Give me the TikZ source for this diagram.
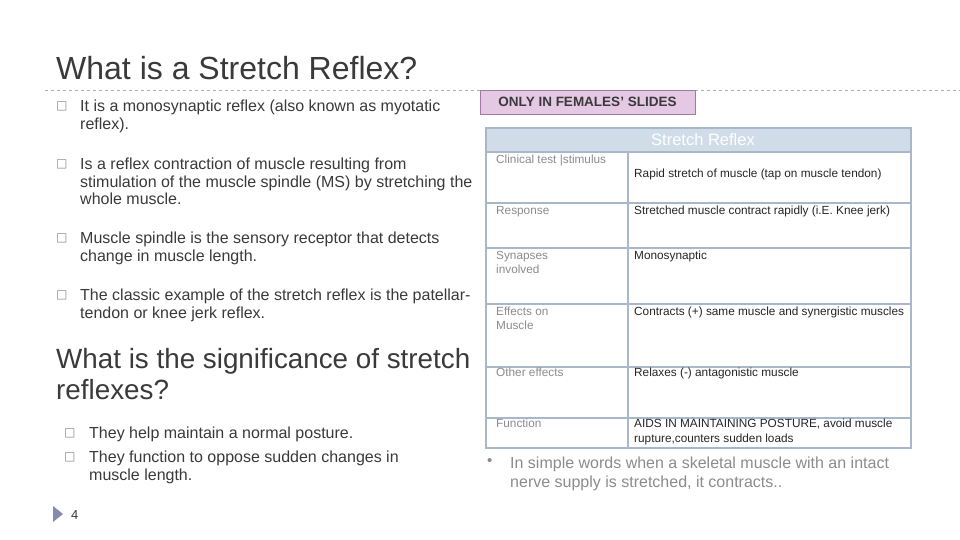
\documentclass[tikz,border=0pt]{standalone}
\usepackage{fontspec}
\setmainfont{Liberation Sans}
\newfontfamily\djsans{DejaVu Sans}
\definecolor{tx}{HTML}{3A3A3A}
\definecolor{lb}{HTML}{8C8C8C}
\definecolor{tb}{HTML}{A8B8C8}
\definecolor{hd}{HTML}{D0DCE8}
\definecolor{pk}{HTML}{E4C8E4}
\definecolor{pkb}{HTML}{A07AA0}
\begin{document}
\begin{tikzpicture}[x=1pt,y=-1pt,
 body/.style={anchor=north west,text=tx,font=\fontsize{16}{17.5}\selectfont,align=left,inner sep=0pt},
 bul/.style={anchor=north west,text=lb,font=\djsans\fontsize{12}{13}\selectfont,inner sep=0pt},
 lab/.style={anchor=north west,text=lb,font=\fontsize{11.8}{14}\selectfont,align=left,inner sep=0pt},
 val/.style={anchor=north west,text=black!85,font=\fontsize{11.8}{14.5}\selectfont,align=left,inner sep=0pt},
 grid/.style={draw=tb,line width=1.8pt}]
\useasboundingbox (0,0) rectangle (960,540);
\fill[white] (0,0) rectangle (960,540);
\node[anchor=west,text=tx,font=\fontsize{32}{34}\selectfont,inner sep=0pt] (title) at (56,68) {What is a Stretch Reflex?};
\draw[lb!70,dashed] (45,90) -- (480,90) (695,90) -- (960,90);
\node[draw=pkb,fill=pk,minimum width=215,minimum height=24,inner sep=0pt,font=\bfseries\fontsize{13.5}{14}\selectfont,text=tx] (pink) at (587.5,102) {ONLY IN FEMALES’ SLIDES};
% bullets left
\node[bul] (b1) at (56,102) {□};
\node[body] (t1) at (80,100) {It is a monosynaptic reflex (also known as myotatic\\reflex).};
\node[bul] (b2) at (56,160) {□};
\node[body] (t2) at (80,158) {Is a reflex contraction of muscle resulting from\\stimulation of the muscle spindle (MS) by stretching the\\whole muscle.};
\node[bul] (b3) at (56,234) {□};
\node[body] (t3) at (80,232) {Muscle spindle is the sensory receptor that detects\\change in muscle length.};
\node[bul] (b4) at (56,291) {□};
\node[body] (t4) at (80,289) {The classic example of the stretch reflex is the patellar-\\tendon or knee jerk reflex.};
\node[anchor=north west,text=tx,font=\fontsize{27.8}{31}\selectfont,align=left,inner sep=0pt] (sig) at (56,348) {What is the significance of stretch\\reflexes?};
\node[bul] (b5) at (64,429) {□};
\node[body] (t5) at (89,427) {They help maintain a normal posture.};
\node[bul] (b6) at (64,453) {□};
\node[body] (t6) at (89,451) {They function to oppose sudden changes in\\muscle length.};
\fill[tb!80!blue!60!gray] (53,506) -- (63,514) -- (53,522) -- cycle;
\node[anchor=west,text=tx,font=\fontsize{13}{14}\selectfont,inner sep=0pt] (pg) at (71,515) {4};
% table
\fill[hd] (486,128) rectangle (911,152);
\node[text=white,font=\fontsize{16.5}{17}\selectfont] (th) at (703,140) {Stretch Reflex};
\draw[grid] (486,128) rectangle (911,448);
\foreach \y in {152,203,248,304,367,418} \draw[grid] (486,\y) -- (911,\y);
\draw[grid] (628,152) -- (628,448);
\node[lab] (l1) at (496,155) {Clinical test |stimulus};
\node[val] (v1) at (634,169) {Rapid stretch of muscle (tap on muscle tendon)};
\node[lab] (l2) at (496,206) {Response};
\node[val] (v2) at (634,206) {Stretched muscle contract rapidly (i.E. Knee jerk)};
\node[lab] (l3) at (496,251) {Synapses\\involved};
\node[val] (v3) at (634,251) {Monosynaptic};
\node[lab] (l4) at (496,307) {Effects on\\Muscle};
\node[val] (v4) at (634,307) {Contracts (+) same muscle and synergistic muscles};
\node[lab] (l5) at (496,368) {Other effects};
\node[val] (v5) at (634,368) {Relaxes (-) antagonistic muscle};
\node[lab] (l6) at (496,419) {Function};
\node[val] (v6) at (634,419) {AIDS IN MAINTAINING POSTURE, avoid muscle\\rupture,counters sudden loads};
\node[anchor=north west,text=lb,font=\fontsize{15}{17}\selectfont,inner sep=0pt] (b7) at (487,458) {•};
\node[anchor=north west,text=lb,font=\fontsize{16}{19}\selectfont,align=left,inner sep=0pt] (t7) at (510,457) {In simple words when a skeletal muscle with an intact\\nerve supply is stretched, it contracts..};
\end{tikzpicture}
\end{document}
